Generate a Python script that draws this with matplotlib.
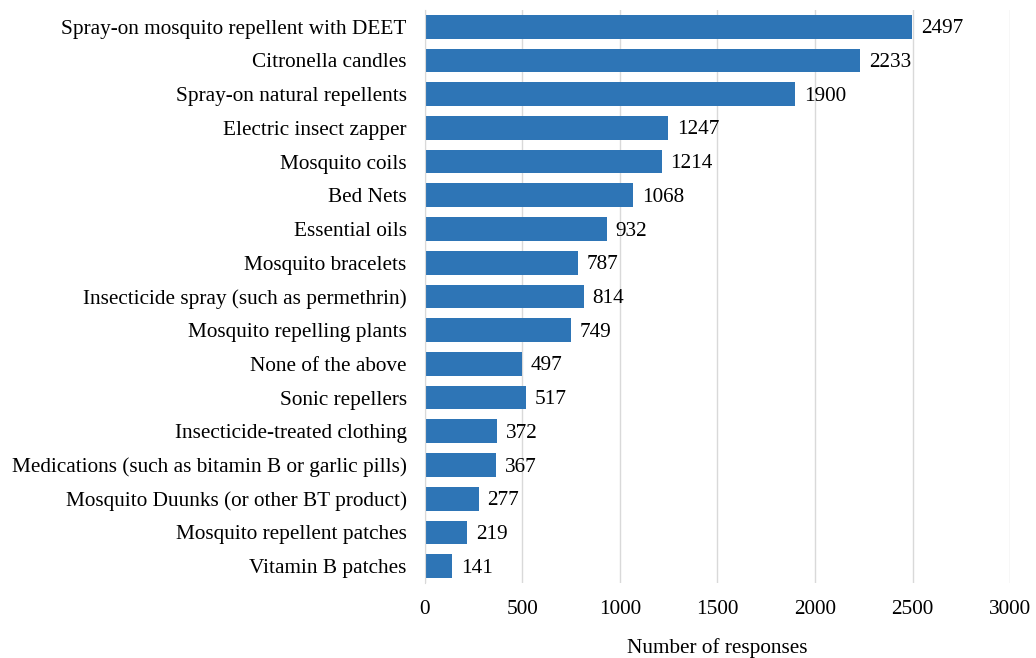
import matplotlib
matplotlib.use("Agg")
import matplotlib.pyplot as plt

categories = [
    "Spray-on mosquito repellent with DEET",
    "Citronella candles",
    "Spray-on natural repellents",
    "Electric insect zapper",
    "Mosquito coils",
    "Bed Nets",
    "Essential oils",
    "Mosquito bracelets",
    "Insecticide spray (such as permethrin)",
    "Mosquito repelling plants",
    "None of the above",
    "Sonic repellers",
    "Insecticide-treated clothing",
    "Medications (such as bitamin B or garlic pills)",
    "Mosquito Duunks (or other BT product)",
    "Mosquito repellent patches",
    "Vitamin B patches",
]
responses = [2497, 2233, 1900, 1247, 1214, 1068, 932, 787, 814, 749,
             497, 517, 372, 367, 277, 219, 141]
x_ticks = [0, 500, 1000, 1500, 2000, 2500, 3000]

plt.rcParams["font.family"] = ["Liberation Serif", "DejaVu Serif"]
fs = 15.3

fig = plt.figure(figsize=(10.36, 6.58), dpi=100)
ax = fig.add_axes([0.410, 0.114, 0.565, 0.871])

ypos = list(range(len(categories)))
ax.barh(ypos, responses, height=0.7, color="#2E75B6", zorder=3)

# value labels to the right of each bar
for y, v in zip(ypos, responses):
    ax.text(v + 45, y + 0.06, str(v), va="center", ha="left", fontsize=fs, zorder=4)

ax.set_yticks(ypos)
ax.set_yticklabels(categories, fontsize=fs)
ax.set_ylim(len(categories) - 0.5, -0.5)
ax.set_xlim(0, 3000)
ax.set_xticks(x_ticks)
ax.set_xticklabels([str(t) for t in x_ticks], fontsize=fs)
ax.tick_params(axis="y", length=0, pad=13)
ax.tick_params(axis="x", length=0, pad=12)

ax.grid(axis="x", color="#D9D9D9", linewidth=1, zorder=0)
for s in ["top", "right", "bottom"]:
    ax.spines[s].set_visible(False)
ax.spines["left"].set_color("#D9D9D9")
ax.spines["left"].set_zorder(5)

ax.set_xlabel("Number of responses", fontsize=fs, labelpad=14)

fig.savefig("out.png", dpi=100)
